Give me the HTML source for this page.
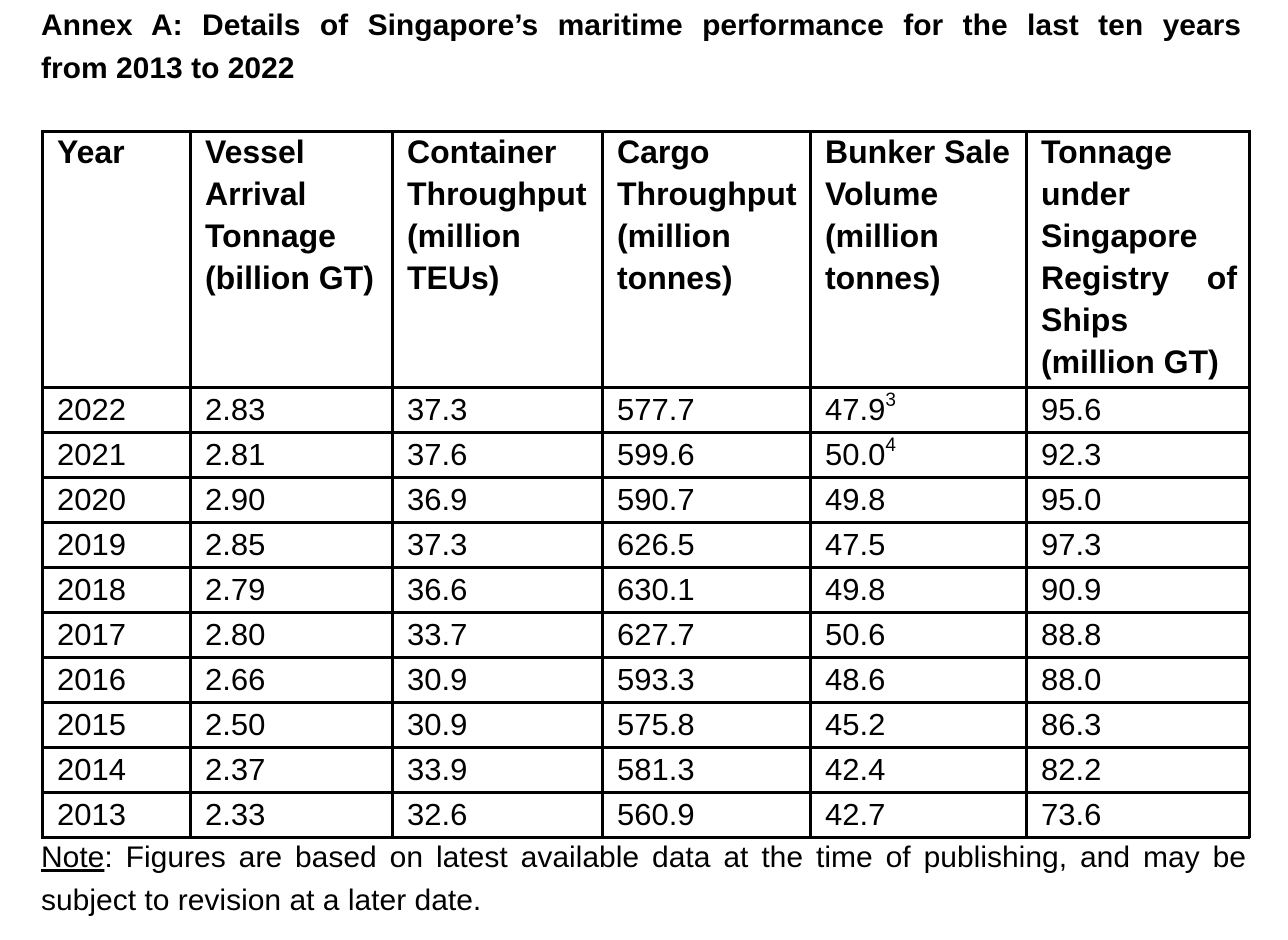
<!DOCTYPE html>
<html><head><meta charset="utf-8"><style>
body{margin:0;width:1288px;height:940px;background:#fff;position:relative;font-family:"Liberation Sans",Arial,sans-serif;color:#000;overflow:hidden}
.title{position:absolute;left:41px;width:1200px;font-weight:bold;font-size:30px;line-height:43px;top:4px}
.jl{display:block;text-align:justify;text-align-last:justify;white-space:nowrap}
.h{position:absolute;height:3px;background:#000;left:41px;width:1209px}
.v{position:absolute;width:3px;background:#000;top:130px;height:708px}
.hd{position:absolute;top:131px;font-weight:bold;font-size:32px;line-height:42px;white-space:nowrap}
.c{position:absolute;font-size:31px;line-height:45px;white-space:nowrap}
sup{font-size:19px;vertical-align:top;line-height:19px;position:relative;top:4px}
.note{position:absolute;left:41px;top:836px;width:1205px;font-size:30px;line-height:43px}
</style></head><body>
<div class="title"><span class="jl">Annex A: Details of Singapore’s maritime performance for the last ten years</span>from 2013 to 2022</div>
<div id="tbl"></div>
<div class="note"><span class="jl"><u>Note</u>: Figures are based on latest available data at the time of publishing, and may be</span>subject to revision at a later date.</div>
<script>
const years=["2022","2021","2020","2019","2018","2017","2016","2015","2014","2013"];
const vessel=["2.83","2.81","2.90","2.85","2.79","2.80","2.66","2.50","2.37","2.33"];
const container=["37.3","37.6","36.9","37.3","36.6","33.7","30.9","30.9","33.9","32.6"];
const cargo=["577.7","599.6","590.7","626.5","630.1","627.7","593.3","575.8","581.3","560.9"];
const bunker=["47.9<sup>3</sup>","50.0<sup>4</sup>","49.8","47.5","49.8","50.6","48.6","45.2","42.4","42.7"];
const tonnage=["95.6","92.3","95.0","97.3","90.9","88.8","88.0","86.3","82.2","73.6"];
const headers=["Year","Vessel<br>Arrival<br>Tonnage<br>(billion GT)","Container<br>Throughput<br>(million<br>TEUs)","Cargo<br>Throughput<br>(million<br>tonnes)","Bunker Sale<br>Volume<br>(million<br>tonnes)","Tonnage<br>under<br>Singapore<br><span style='display:inline-block;width:196px;text-align-last:justify'>Registry of</span><br>Ships<br>(million GT)"];
const colX=[41,189,391,601,809,1025,1248];
const hY=[130,386,431,476,521,566,611,656,701,746,791,836];
const tbl=document.getElementById('tbl');
const cols=[years,vessel,container,cargo,bunker,tonnage];
const colNames=['year','vessel-arrival','container-throughput','cargo-throughput','bunker-sale','registry-tonnage'];
hY.forEach(y=>{const d=document.createElement('div');d.className='h';d.style.top=y+'px';


tbl.appendChild(d);});
colX.forEach(x=>{const d=document.createElement('div');d.className='v';d.style.left=x+'px';


tbl.appendChild(d);});
headers.forEach((h,i)=>{const d=document.createElement('div');d.className='hd';d.style.left=(colX[i]+16)+'px';d.innerHTML=h;


tbl.appendChild(d);});
cols.forEach((arr,i)=>{arr.forEach((v,r)=>{const d=document.createElement('div');d.className='c';d.style.left=(colX[i]+16)+'px';d.style.top=(hY[r+1]+1)+'px';d.innerHTML=v;


tbl.appendChild(d);});});
</script>
</body></html>
